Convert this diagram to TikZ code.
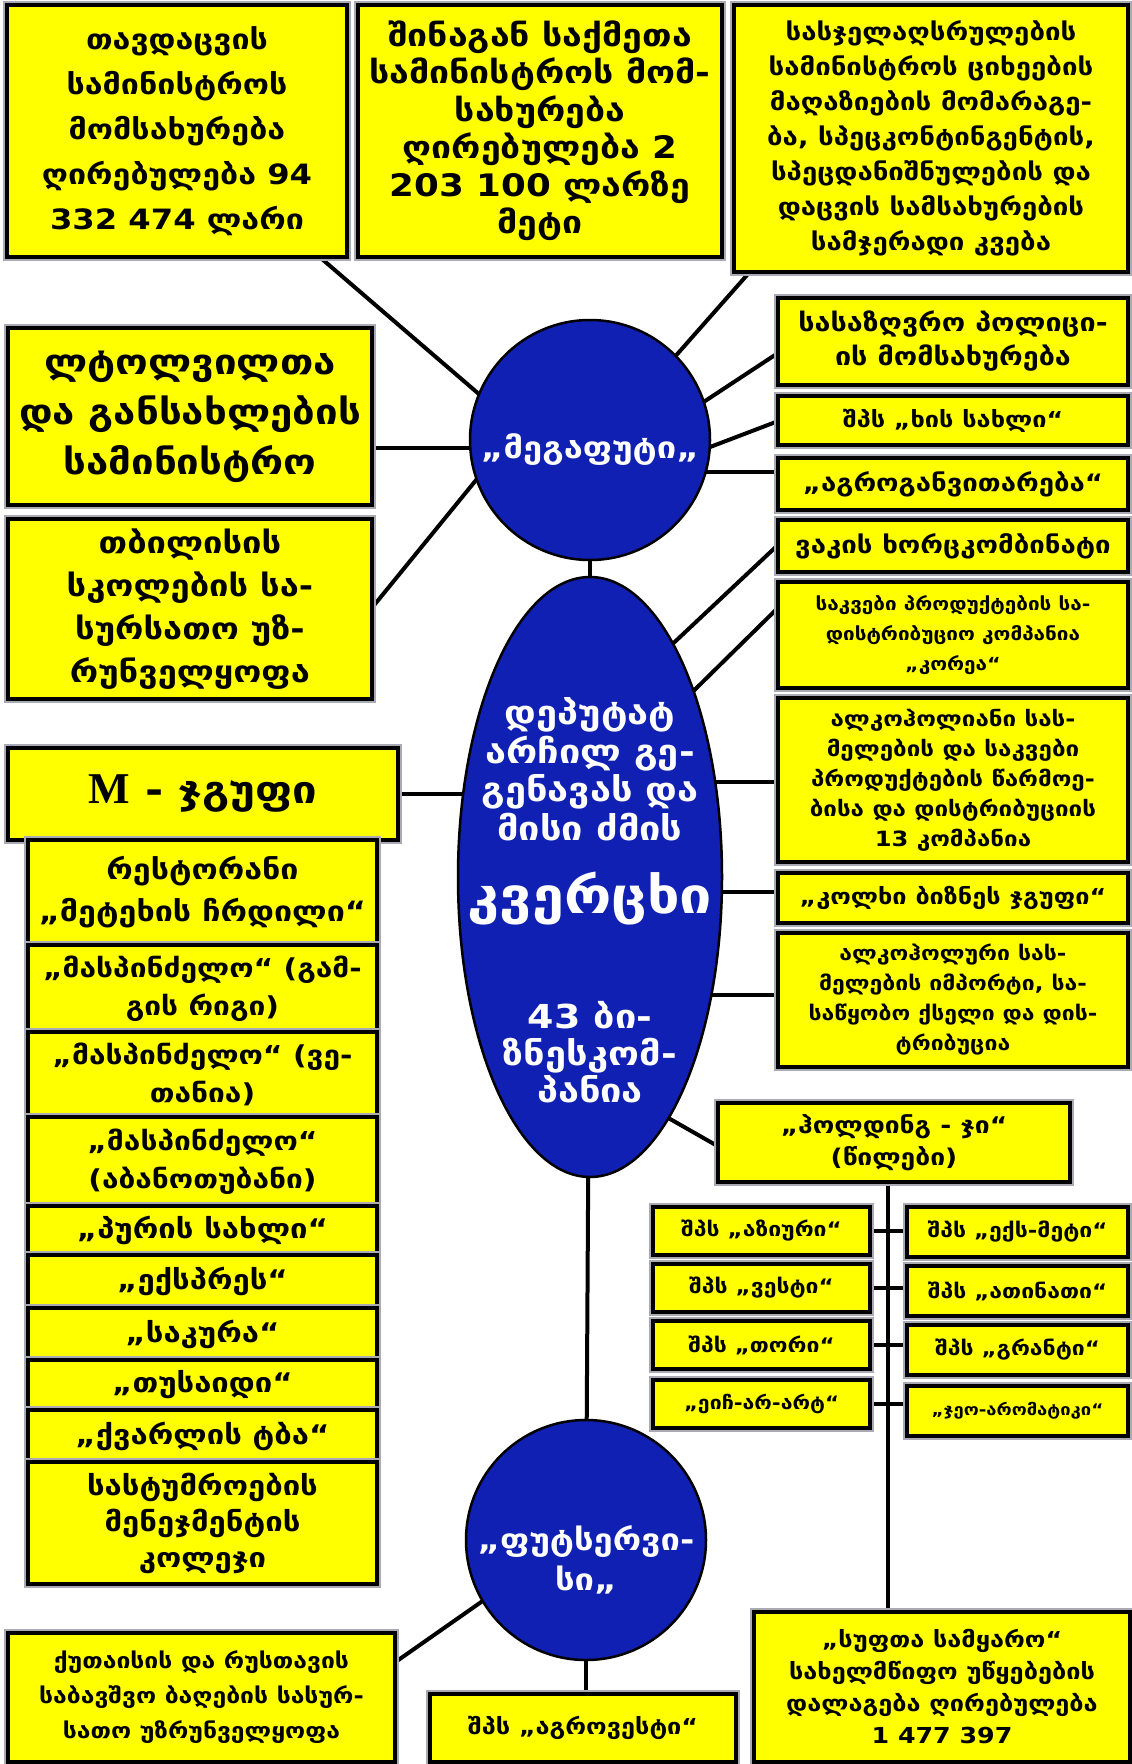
\documentclass[tikz,border=0pt]{standalone}
\usepackage{fontspec}
\setmainfont{DejaVu Sans}[FakeStretch=1.15]
\newfontfamily\latserif{Liberation Serif}
\usetikzlibrary{calc,backgrounds,shapes.geometric}
\definecolor{boxyellow}{RGB}{255,255,0}
\definecolor{ellblue}{RGB}{16,32,178}
\definecolor{halo}{RGB}{170,170,180}
\newcommand\fs[2]{\fontsize{#1}{#2}\selectfont\bfseries}
\begin{document}
\begin{tikzpicture}[x=1pt,y=-1pt,
  box/.style={draw=black,line width=4.5pt,fill=boxyellow,align=center,inner sep=1pt,
    preaction={draw=halo,line width=8pt}},
  oval/.style={ellipse,draw=black,line width=2.5pt,fill=ellblue,inner sep=0pt},
  wtext/.style={text=white,align=center,inner sep=0pt},
  conn/.style={draw=black,line width=4pt}]
\useasboundingbox (0,0) rectangle (1132,1764);
% top row
\node[box,minimum width=340pt,minimum height=252pt,font=\fs{28}{45}] (b1) at (177,131)
  {თავდაცვის\\სამინისტროს\\მომსახურება\\ღირებულება 94\\332 474 ლარი};
\node[box,minimum width=364pt,minimum height=252pt,font=\fs{31}{37.5}] (b2) at (540,131)
  {შინაგან საქმეთა\\სამინისტროს მომ-\\სახურება\\ღირებულება 2\\203 100 ლარზე\\მეტი};
\node[box,minimum width=394pt,minimum height=267pt,font=\fs{24}{35}] (b3) at (931,138.5)
  {სასჯელაღსრულების\\სამინისტროს ციხეების\\მაღაზიების მომარაგე-\\ბა, სპეცკონტინგენტის,\\სპეცდანიშნულების და\\დაცვის სამსახურების\\სამჯერადი კვება};
% left upper
\node[box,minimum width=364pt,minimum height=177pt,font=\fs{35}{50}] (l1) at (190,416.5)
  {ლტოლვილთა\\და განსახლების\\სამინისტრო};
\node[box,minimum width=364pt,minimum height=180pt,font=\fs{30}{43}] (l2) at (190,609)
  {თბილისის\\სკოლების სა-\\სურსათო უზ-\\რუნველყოფა};
% right column
\node[box,minimum width=350pt,minimum height=87pt,font=\fs{25}{34}] (r1) at (953,341.5)
  {სასაზღვრო პოლიცი-\\ის მომსახურება};
\node[box,minimum width=350pt,minimum height=49pt,font=\fs{22}{30}] (r2) at (953,420.5)
  {შპს „ხის სახლი“};
\node[box,minimum width=350pt,minimum height=52pt,font=\fs{24}{30}] (r3) at (953,484)
  {„აგროგანვითარება“};
\node[box,minimum width=350pt,minimum height=52pt,font=\fs{24}{30}] (r4) at (953,546)
  {ვაკის ხორცკომბინატი};
\node[box,minimum width=350pt,minimum height=106pt,font=\fs{18}{30}] (r5) at (953,635)
  {საკვები პროდუქტების სა-\\დისტრიბუციო კომპანია\\„კორეა“};
\node[box,minimum width=350pt,minimum height=164pt,font=\fs{21}{30}] (r6) at (953,780)
  {ალკოჰოლიანი სას-\\მელების და საკვები\\პროდუქტების წარმოე-\\ბისა და დისტრიბუციის\\13 კომპანია};
\node[box,minimum width=350pt,minimum height=50pt,font=\fs{22}{30}] (r7) at (953,898)
  {„კოლხი ბიზნეს ჯგუფი“};
\node[box,minimum width=350pt,minimum height=134pt,font=\fs{20}{30}] (r8) at (953,1000)
  {ალკოჰოლური სას-\\მელების იმპორტი, სა-\\საწყობო ქსელი და დის-\\ტრიბუცია};
\node[box,minimum width=352pt,minimum height=79pt,font=\fs{23}{32}] (hold) at (894,1142.5)
  {„ჰოლდინგ - ჯი“\\(წილები)};
% pairs
\node[box,minimum width=217pt,minimum height=48pt,font=\fs{20}{26}] (p1l) at (761.5,1231) {შპს „აზიური“};
\node[box,minimum width=217pt,minimum height=48pt,font=\fs{20}{26}] (p2l) at (761.5,1288) {შპს „ვესტი“};
\node[box,minimum width=217pt,minimum height=48pt,font=\fs{20}{26}] (p3l) at (761.5,1345) {შპს „თორი“};
\node[box,minimum width=217pt,minimum height=48pt,font=\fs{18.5}{26}] (p4l) at (761.5,1404) {„ეიჩ-არ-არტ“};
\node[box,minimum width=221pt,minimum height=50pt,font=\fs{20}{26}] (p1r) at (1017.5,1232) {შპს „ექს-მეტი“};
\node[box,minimum width=221pt,minimum height=50pt,font=\fs{20}{26}] (p2r) at (1017.5,1291) {შპს „ათინათი“};
\node[box,minimum width=221pt,minimum height=50pt,font=\fs{20}{26}] (p3r) at (1017.5,1350) {შპს „გრანტი“};
\node[box,minimum width=221pt,minimum height=50pt,font=\fs{16}{26}] (p4r) at (1017.5,1411) {„ჯეო-არომატიკი“};
% bottom
\node[box,minimum width=376pt,minimum height=150pt,font=\fs{22}{32}] (suf) at (942,1687)
  {„სუფთა სამყარო“\\სახელმწიფო უწყებების\\დალაგება ღირებულება\\1 477 397};
\node[box,minimum width=306pt,minimum height=68pt,font=\fs{22}{30}] (agr) at (583,1728)
  {შპს „აგროვესტი“};
\node[box,minimum width=387pt,minimum height=129pt,font=\fs{21.5}{35}] (kut) at (201.5,1697.5)
  {ქუთაისის და რუსთავის\\საბავშვო ბაღების სასურ-\\სათო უზრუნველყოფა};
% left column (M-group)
\node[box,minimum width=390pt,minimum height=92pt,font=\fs{38}{40}] (mhdr) at (203,794)
  {{\latserif\fontsize{44}{44}\selectfont\bfseries M} - ჯგუფი};
\node[box,minimum width=349pt,minimum height=105pt,font=\fs{28}{42}] (m1) at (202.5,892.5)
  {რესტორანი\\„მეტეხის ჩრდილი“};
\node[box,minimum width=349pt,minimum height=87pt,font=\fs{26}{38}] (m2) at (202.5,988.5)
  {„მასპინძელო“ (გამ-\\გის რიგი)};
\node[box,minimum width=349pt,minimum height=85pt,font=\fs{26}{38}] (m3) at (202.5,1074.5)
  {„მასპინძელო“ (ვე-\\თანია)};
\node[box,minimum width=349pt,minimum height=89pt,font=\fs{26}{38}] (m4) at (202.5,1161.5)
  {„მასპინძელო“\\(აბანოთუბანი)};
\node[box,minimum width=349pt,minimum height=49pt,font=\fs{27}{30}] (m5) at (202.5,1230.5) {„პურის სახლი“};
\node[box,minimum width=349pt,minimum height=53pt,font=\fs{27}{30}] (m6) at (202.5,1281.5) {„ექსპრეს“};
\node[box,minimum width=349pt,minimum height=52pt,font=\fs{27}{30}] (m7) at (202.5,1334) {„საკურა“};
\node[box,minimum width=349pt,minimum height=50pt,font=\fs{27}{30}] (m8) at (202.5,1385) {„თუსაიდი“};
\node[box,minimum width=349pt,minimum height=52pt,font=\fs{27}{30}] (m9) at (202.5,1436) {„ქვარლის ტბა“};
\node[box,minimum width=349pt,minimum height=122pt,font=\fs{27}{36}] (m10) at (202.5,1523)
  {სასტუმროების\\მენეჯმენტის\\კოლეჯი};
% ovals
\node[oval,minimum width=240pt,minimum height=240pt] (c1) at (590,440) {};
\node[wtext,font=\fs{30}{36}] (c1t) at (590,450) {„მეგაფუტი„};
\node[oval,minimum width=264pt,minimum height=600pt] (ell) at (590,877) {};
\node[wtext,font=\fs{33}{38.5}] (e1) at (590,769) {დეპუტატ\\არჩილ გე-\\გენავას და\\მისი ძმის};
\node[wtext,font=\fs{50}{52}] (e2) at (590,899) {კვერცხი};
\node[wtext,font=\fs{33}{37}] (e3) at (590,1052) {43 ბი-\\ზნესკომ-\\პანია};
\node[oval,minimum width=240pt,minimum height=240pt] (c2) at (586,1540) {};
\node[wtext,font=\fs{30}{40}] (c2t) at (586,1560) {„ფუტსერვი-\\სი„};
% connectors
\begin{scope}[on background layer]
\fill[white] (0,0) rectangle (1132,1764);
\draw[conn] ($(b1.south east)+(-27,0)$) -- ($(c1.center)+(-60,-2)$);
\draw[conn] ($(b3.south west)+(16,0)$) -- ($(c1.center)+(37,-29)$);
\draw[conn] ($(l1.east)+(0,31.5)$) -- ($(c1.center)+(0,8)$);
\draw[conn] ($(l2.east)+(0,-4)$) -- ($(c1.center)+(-74,-9)$);
\draw[conn] ($(r1.west)+(0,13)$) -- ($(c1.center)+(68,-8)$);
\draw[conn] ($(r2.west)+(0,1.5)$) -- ($(c1.center)+(86,20)$);
\draw[conn] ($(r3.west)+(0,-12)$) -- ($(c1.center)+(60,32)$);
\draw[conn] ($(r4.west)+(0,1)$) -- ($(ell.center)+(57,-209)$);
\draw[conn] ($(r5.west)+(0,-25)$) -- ($(ell.center)+(74,-157)$);
\draw[conn] ($(r6.west)+(0,2)$) -- ($(ell.center)+(60,-95)$);
\draw[conn] ($(r7.west)+(0,-6)$) -- ($(ell.center)+(60,15)$);
\draw[conn] ($(r8.west)+(0,-5)$) -- ($(ell.center)+(60,118)$);
\draw[conn] ($(hold.west)+(0,2.5)$) -- ($(ell.center)+(38,218)$);
\draw[conn] (mhdr.east) -- ($(ell.center)+(-60,-83)$);
\draw[conn] (c1.center) -- (ell.center);
\draw[conn] (ell.center) -- (c2.center);
\draw[conn] (c2.center) -- (c2.center |- agr.north);
\draw[conn] ($(kut.north east)+(0,30)$) -- ($(c2.center)+(-72,39)$);
\draw[conn] ($(hold.south)+(-6,0)$) coordinate (vt) -- (vt |- suf.north);
\foreach \a/\b in {p1l/p1r,p2l/p2r,p3l/p3r,p4l/p4r}
  \draw[conn] (\a.east) -- (\a.east -| \b.west);
\end{scope}
\end{tikzpicture}
\end{document}
